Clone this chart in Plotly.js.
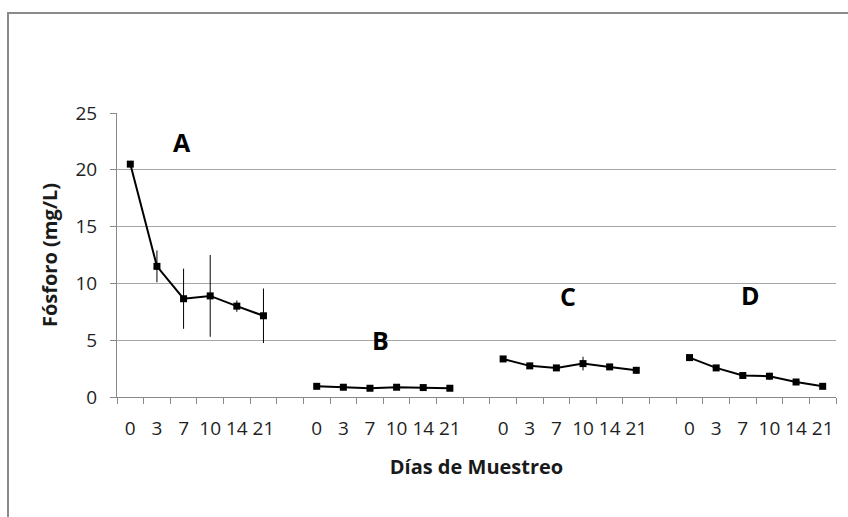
<!DOCTYPE html>
<html>
<head>
<meta charset="utf-8">
<script src="https://cdn.plot.ly/plotly-3.0.1.min.js"></script>
<style>
  html, body { margin: 0; padding: 0; background: #ffffff; }
  #chart { width: 848px; height: 517px; }
</style>
</head>
<body>
<div id="chart"></div>
<script>
// Sampling days shared by every treatment group
const days = ["0", "3", "7", "10", "14", "21"];

// Treatment groups, in axis order
const groups = ["A", "B", "C", "D"];

// Phosphorus (mg/L), mean per sampling day
const seriesA = [20.5, 11.5, 8.65, 8.9, 8.0, 7.15];
const seriesB = [0.94, 0.86, 0.77, 0.86, 0.83, 0.77];
const seriesC = [3.35, 2.74, 2.56, 2.94, 2.65, 2.35];
const seriesD = [3.47, 2.56, 1.89, 1.83, 1.32, 0.94];

// Error (± mg/L) per sampling day
const errorA = [0.2, 1.4, 2.65, 3.6, 0.5, 2.4];
const errorB = [0.1, 0.1, 0.1, 0.12, 0.1, 0.1];
const errorC = [0.12, 0.15, 0.1, 0.6, 0.15, 0.3];
const errorD = [0.1, 0.15, 0.1, 0.3, 0.15, 0.1];

const values = [seriesA, seriesB, seriesC, seriesD];
const errors = [errorA, errorB, errorC, errorD];

// Each group occupies its days plus one empty slot as a separator
const slot = days.length + 1;
const nSlots = groups.length * slot - 1;

const traces = groups.map((g, gi) => ({
  type: "scatter",
  mode: "lines+markers",
  name: g,
  x: days.map((_, i) => gi * slot + i),
  y: values[gi],
  error_y: { type: "data", array: errors[gi], visible: true, color: "#000000", thickness: 1, width: 0 },
  line: { color: "#000000", width: 2 },
  marker: { color: "#000000", symbol: "square", size: 7 },
  showlegend: false,
  hoverinfo: "y"
}));

// Axis labels: day names under each slot, blank in separator slots
const tickVals = [];
const tickText = [];
for (let s = 0; s < nSlots; s++) {
  tickVals.push(s);
  const pos = s % slot;
  tickText.push(pos < days.length ? days[pos] : "");
}

const font = "'Open Sans', 'Noto Sans', sans-serif";
const gridColor = "#a6a6a6";
const lineColor = "#898989";

// Group labels placed over their curves
const labelPos = [
  { x: 1.94, y: 22.45 },
  { x: 9.38, y: 5.02 },
  { x: 16.44, y: 8.9 },
  { x: 23.29, y: 8.98 }
];

const layout = {
  width: 848,
  height: 517,
  margin: { l: 117, r: 12, t: 113, b: 120 },
  paper_bgcolor: "#ffffff",
  plot_bgcolor: "#ffffff",
  font: { family: font, color: "#1f1f1f", size: 19 },
  xaxis: {
    range: [-0.5, nSlots - 0.5],
    tickmode: "array",
    tickvals: tickVals,
    ticktext: tickText,
    ticks: "",
    ticklabelstandoff: 14,
    showgrid: false,
    zeroline: false,
    showline: true,
    linecolor: lineColor,
    linewidth: 1,
    minor: { ticks: "outside", tick0: -0.5, dtick: 1, ticklen: 6, tickcolor: lineColor, tickwidth: 1, showgrid: false },
    tickfont: { family: font, size: 19, color: "#1f1f1f" },
    title: { text: "<b>Días de Muestreo</b>", font: { family: font, size: 20, color: "#1a1a1a" }, standoff: 20 },
    fixedrange: true
  },
  yaxis: {
    range: [0, 25],
    dtick: 5,
    tick0: 0,
    ticks: "outside",
    ticklen: 6,
    tickcolor: lineColor,
    ticklabelstandoff: 9,
    showgrid: true,
    gridcolor: gridColor,
    gridwidth: 1,
    zeroline: false,
    showline: true,
    linecolor: lineColor,
    linewidth: 1,
    tickfont: { family: font, size: 19, color: "#1f1f1f" },
    title: { text: "<b>Fósforo (mg/L)</b>", font: { family: font, size: 20, color: "#1a1a1a" }, standoff: 12 },
    fixedrange: true
  },
  annotations: groups.map((g, gi) => ({
    text: "<b>" + g + "</b>",
    x: labelPos[gi].x,
    y: labelPos[gi].y,
    xref: "x",
    yref: "y",
    showarrow: false,
    font: { family: font, size: 25, color: "#000000" }
  })),
  shapes: [{
    type: "rect",
    xref: "paper",
    yref: "paper",
    x0: -0.1516,
    x1: 1.3,
    y0: -0.8,
    y1: 1.352,
    line: { color: "#8a8a8a", width: 2 },
    fillcolor: "rgba(0,0,0,0)",
    layer: "below"
  }]
};

Plotly.newPlot("chart", traces, layout, { displayModeBar: false, staticPlot: true });
</script>
</body>
</html>
